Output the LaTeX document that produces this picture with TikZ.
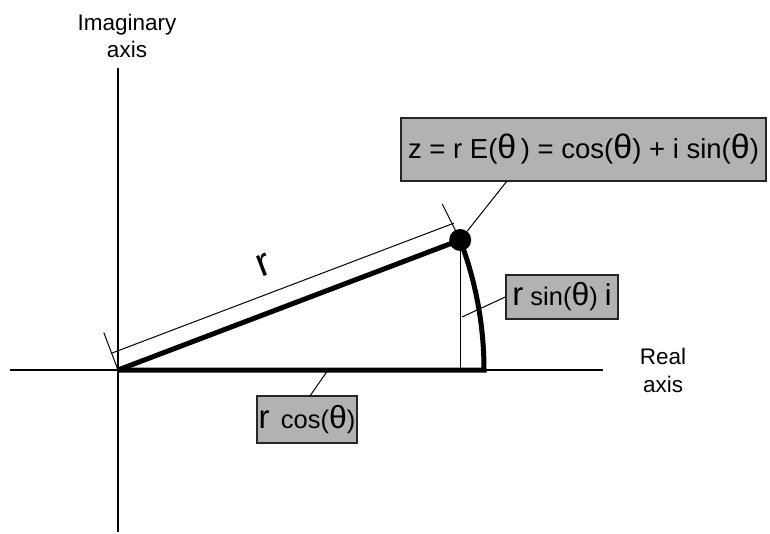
\documentclass[tikz,border=0pt]{standalone}
\usepackage{fontspec}
\setmainfont{Liberation Sans}
\usetikzlibrary{calc}
\newcommand\fsz[2]{{\fontsize{#1}{#1}\selectfont #2}}
\begin{document}
\begin{tikzpicture}[x=1pt,y=1pt,
  axisline/.style={line width=1.4pt,black},
  thickline/.style={line width=5pt,black},
  thinline/.style={line width=1pt,black},
  labelbox/.style={draw=black!85,line width=1.3pt,fill=black!30,inner sep=0pt,minimum height=#1},
  axislabel/.style={align=center,inner sep=0pt,font=\fontsize{22.5}{27.6}\selectfont}]
\useasboundingbox (0,0) rectangle (770,533);
% axes
\coordinate (O) at (118,163);
\coordinate (ytop) at (118,465);
\coordinate (ybot) at (118,1);
\coordinate (xleft) at (10,163);
\coordinate (xright) at (603,163);
\draw[axisline] (ybot) -- (ytop);
\draw[axisline] (xleft) -- (xright);
\node[axislabel] (imlab) at (127,497) {Imaginary\\axis};
\node[axislabel] (relab) at (663,162.5) {Real\\axis};
% geometry
\coordinate (Z) at (460.2,293);
\coordinate (A) at (484,163);
\coordinate (F) at (460.2,163);
\draw[thinline] (Z) -- (F);
\draw[thickline] (O) -- (Z);
\draw[thickline] (O) -- (A) arc[start angle=0,end angle=20.8,radius=366];
\node[circle,fill=black,inner sep=0pt,minimum size=22pt] (zdot) at (Z) {};
% dimension line
\coordinate (d1) at ($(O)+(-6.4,16.8)$);
\coordinate (d2) at ($(Z)+(-6.4,16.8)$);
\coordinate (t1) at ($(O)+(-14.2,37.4)$);
\coordinate (t2) at ($(Z)+(-18,36)$);
\draw[thinline] (d1) -- (d2);
\draw[thinline] (O) -- (t1);
\draw[thinline] (Z) -- (t2);
\node[rotate=20.8,inner sep=0pt] (rlab) at (264,268) {\fsz{40}{r}};
% boxes
\node[labelbox=63pt,minimum width=365pt] (zbox) at (583.5,383.5)
  {\fontsize{27.5}{27.5}\selectfont z = r E(\fsz{34}{θ}\,) = cos(\fsz{34}{θ}) + i sin(\fsz{34}{θ})};
\node[labelbox=44pt,minimum width=112pt] (sinbox) at (562,236)
  {\fontsize{25.5}{25.5}\selectfont\fsz{33}{r} sin(\fsz{32}{θ}) \fsz{30}{i}};
\node[labelbox=47pt,minimum width=100pt] (cosbox) at (307,113.5)
  {\fontsize{25.5}{25.5}\selectfont\fsz{33}{r}\, cos(\fsz{32}{θ})};
% connectors
\coordinate (zc) at (507,352);
\draw[thinline] (zc) -- (zdot);
\coordinate (sc) at (462,216);
\draw[thinline] (sinbox.west) -- (sc);
\coordinate (cc1) at (310,137);
\coordinate (cc2) at (328,163);
\draw[thinline] (cc1) -- (cc2);
\end{tikzpicture}
\end{document}
